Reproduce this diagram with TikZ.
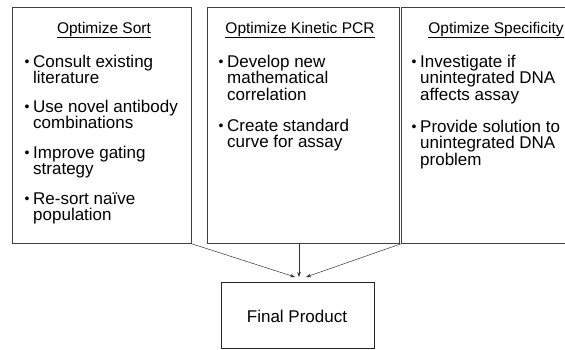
\documentclass[tikz,border=0pt]{standalone}
\usepackage{fontspec}
\setmainfont{Liberation Sans}
\usetikzlibrary{arrows.meta}
\newcommand{\itmtext}[1]{\parbox[t]{180pt}{\raggedright #1}}
\begin{document}
\begin{tikzpicture}[x=1pt,y=-1pt,
  box/.style={draw=black!75,line width=0.8pt,inner sep=0pt,anchor=north west},
  fnt/.style={font=\fontsize{17}{16.8}\selectfont},
  ttl/.style={font=\fontsize{15.5}{17}\selectfont,inner sep=0pt,anchor=base},
  txt/.style={fnt,inner sep=0pt,anchor=base west},
  bul/.style={font=\fontsize{14}{16}\selectfont,inner sep=0pt,anchor=base},
  arr/.style={draw=black!80,line width=0.5pt,-{Stealth[length=5pt,width=3.5pt]}}]
\useasboundingbox (0,0) rectangle (565,349);
% boxes
\node[box,minimum width=179pt,minimum height=236pt] (b1) at (12,7) {};
\node[box,minimum width=192pt,minimum height=236pt] (b2) at (207,7) {};
\node[box,minimum width=190pt,minimum height=236pt] (b3) at (401,7) {};
\node[draw=black!85,line width=0.8pt,minimum width=153pt,minimum height=66pt,inner sep=0pt,anchor=north west] (fp) at (221,282) {};
\node[fnt,inner sep=0pt] (fpt) at (297,316) {Final Product};
% titles
\node[ttl] (t1) at (104,33) {\underline{Optimize Sort}};
\node[ttl] (t2) at (300,33) {\underline{Optimize Kinetic PCR}};
\node[ttl] (t3) at (496,33) {\underline{Optimize Specificity}};
% box 1 items
\node[bul] (p11) at (27,66) {\textbullet};
\node[txt] (i11) at (33,67) {\itmtext{Consult existing\\literature}};
\node[bul] (p12) at (27,111) {\textbullet};
\node[txt] (i12) at (33,112) {\itmtext{Use novel antibody\\combinations}};
\node[bul] (p13) at (27,157) {\textbullet};
\node[txt] (i13) at (33,158) {\itmtext{Improve gating\\strategy}};
\node[bul] (p14) at (27,203) {\textbullet};
\node[txt] (i14) at (33,204) {\itmtext{Re-sort na\"ive\\population}};
% box 2 items
\node[bul] (p21) at (221,66) {\textbullet};
\node[txt] (i21) at (227,67) {\itmtext{Develop new\\mathematical\\correlation}};
\node[bul] (p22) at (221,130) {\textbullet};
\node[txt] (i22) at (227,131) {\itmtext{Create standard\\curve for assay}};
% box 3 items
\node[bul] (p31) at (414,66) {\textbullet};
\node[txt] (i31) at (420,67) {\itmtext{Investigate if\\unintegrated DNA\\affects assay}};
\node[bul] (p32) at (414,131) {\textbullet};
\node[txt] (i32) at (420,132) {\itmtext{Provide solution to\\unintegrated DNA\\problem}};
% arrows
\coordinate (e1) at (295,277);
\coordinate (e2) at (299,277);
\coordinate (e3) at (306,277);
\draw[arr] (b1.south east) -- (e1);
\draw[arr] (b2.south -| e2) -- (e2);
\draw[arr] (b3.south west) -- (e3);
\end{tikzpicture}
\end{document}
